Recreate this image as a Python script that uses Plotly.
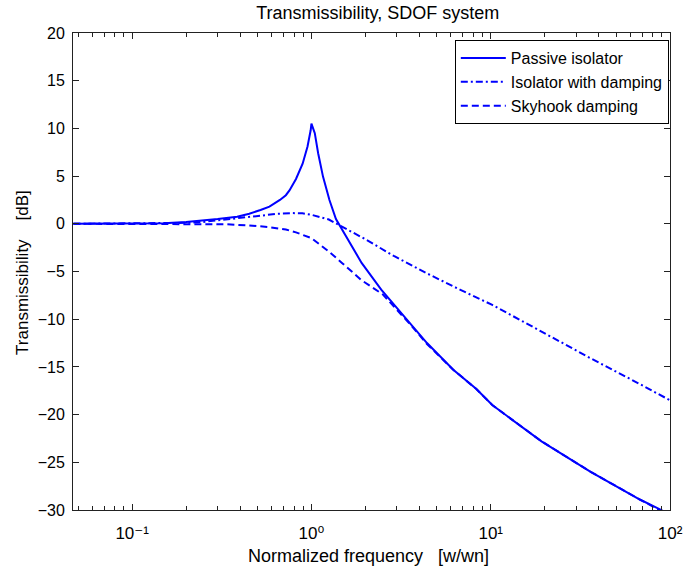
import plotly.graph_objects as go

# ---- data ----
passive_x = [0.047, 0.1, 0.15, 0.2, 0.25, 0.3, 0.385, 0.45, 0.52, 0.583, 0.667, 0.72, 0.754,
             0.82, 0.893, 0.951, 0.99, 1.0, 1.044, 1.09, 1.16, 1.26, 1.37, 1.415, 1.52, 1.905,
             2.45, 3.29, 4.41, 6.18, 8.29, 10.2, 19.2, 36.1, 67.9, 89.5, 100]
passive_y = [0, 0, 0.05, 0.2, 0.35, 0.5, 0.75, 1.05, 1.45, 1.8, 2.5, 3.0, 3.5,
             4.7, 6.3, 8.1, 9.8, 10.5, 9.5, 7.4, 4.95, 2.5, 0.5, 0.05, -0.9, -4.1,
             -6.9, -9.7, -12.5, -15.3, -17.3, -19.0, -22.8, -26.0, -28.9, -30.0, -30.6]

damped_x = [0.047, 0.15, 0.2, 0.25, 0.3, 0.385, 0.516, 0.65, 0.787, 0.89, 1.0, 1.097, 1.25,
            1.48, 1.99, 2.9, 4.41, 6.73, 10.2, 19.2, 36.1, 67.9, 100]
damped_y = [0, 0.02, 0.1, 0.2, 0.35, 0.55, 0.85, 1.05, 1.12, 1.1, 0.95, 0.75, 0.45,
            -0.3, -1.6, -3.4, -5.2, -6.9, -8.5, -11.3, -14.1, -16.8, -18.5]

skyhook_x = [0.047, 0.2, 0.25, 0.339, 0.47, 0.583, 0.72, 0.82, 1.0, 1.1, 1.25, 1.48, 1.9,
             2.5, 2.9, 3.58, 4.41, 6.18, 8.29, 10.2, 19.2, 36.1, 67.9, 100]
skyhook_y = [0, 0, -0.02, -0.05, -0.2, -0.35, -0.6, -0.9, -1.5, -2.1, -2.9, -4.1, -5.9,
             -7.4, -8.7, -10.6, -12.6, -15.3, -17.3, -19.0, -22.8, -26.0, -28.9, -30.6]

series_names = ["Passive isolator", "Isolator with damping", "Skyhook damping"]
x_tickvals = [0.1, 1, 10, 100]
x_ticktext = ["10\u207b\u00b9", "10\u2070", "10\u00b9", "10\u00b2"]
x_minor = [0.05, 0.06, 0.07, 0.08, 0.09, 0.2, 0.3, 0.4, 0.5, 0.6, 0.7, 0.8, 0.9,
           2, 3, 4, 5, 6, 7, 8, 9, 20, 30, 40, 50, 60, 70, 80, 90]

FONT = "Liberation Sans, Arial, Helvetica, DejaVu Sans, sans-serif"
BLUE = "#0000ff"

fig = go.Figure()
fig.add_trace(go.Scatter(x=passive_x, y=passive_y, mode="lines", name=series_names[0],
                         line=dict(color=BLUE, width=2, dash="solid")))
fig.add_trace(go.Scatter(x=damped_x, y=damped_y, mode="lines", name=series_names[1],
                         line=dict(color=BLUE, width=2, dash="7px,3px,2px,3px")))
fig.add_trace(go.Scatter(x=skyhook_x, y=skyhook_y, mode="lines", name=series_names[2],
                         line=dict(color=BLUE, width=2, dash="7px,4px")))

fig.update_layout(
    width=695, height=571,
    margin=dict(l=73, r=13, t=33, b=61),
    paper_bgcolor="white", plot_bgcolor="white",
    font=dict(family=FONT, size=16, color="#000"),
    title=dict(text="Transmissibility, SDOF system", x=0.5435, xanchor="center",
               y=1 - 13.0 / 571, yanchor="middle", font=dict(size=18, color="#000")),
    showlegend=True,
    legend=dict(x=0.998, xanchor="right", y=0.985, yanchor="top",
                bgcolor="white", bordercolor="#000", borderwidth=1, itemwidth=45,
                font=dict(size=16, color="#000"), tracegroupgap=0),
    xaxis=dict(type="log", range=[-1.33, 2], showgrid=False, zeroline=False,
               showline=True, linecolor="#222", linewidth=1, mirror="allticks",
               ticks="inside", ticklen=6, tickcolor="#222",
               tickvals=x_tickvals, ticktext=x_ticktext, ticklabelstandoff=8,
               minor=dict(ticks="inside", ticklen=4, tickcolor="#222", tickvals=x_minor,
                          showgrid=False),
               tickfont=dict(size=17, color="#000")),
    yaxis=dict(range=[-30, 20], showgrid=False, zeroline=False,
               showline=True, linecolor="#222", linewidth=1, mirror="allticks",
               ticks="inside", ticklen=6, tickcolor="#222",
               tickmode="linear", tick0=-30, dtick=5, ticklabelstandoff=4,
               tickfont=dict(size=16, color="#000")),
    annotations=[
        dict(text="Normalized frequency\u00a0\u00a0\u00a0[w/wn]", xref="paper", yref="paper",
             x=0.495, y=(510 - 555.7) / 477, xanchor="center", yanchor="middle",
             showarrow=False, font=dict(size=18, color="#000")),
        dict(text="Transmissibility\u00a0\u00a0\u00a0\u00a0[dB]", xref="paper", yref="paper",
             x=(22 - 73) / 609, y=0.497, xanchor="center", yanchor="middle",
             textangle=-90, showarrow=False, font=dict(size=17, color="#000")),
    ],
)

fig.write_html("out.html")
